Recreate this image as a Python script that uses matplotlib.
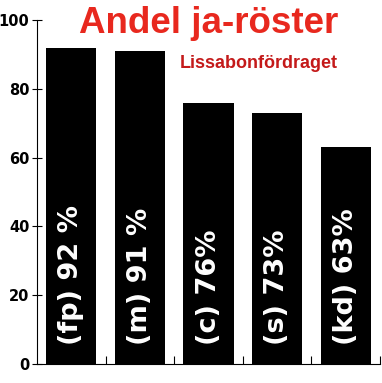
import matplotlib
matplotlib.use("Agg")
import matplotlib.pyplot as plt

categories = ["(fp)", "(m)", "(c)", "(s)", "(kd)"]
values = [92, 91, 76, 73, 63]
labels = ["(fp) 92 %", "(m) 91 %", "(c) 76%", "(s) 73%", "(kd) 63%"]
yticks = [0, 20, 40, 60, 80, 100]

plt.rcParams['font.family'] = ['DejaVu Sans']
fig = plt.figure(figsize=(3.82, 3.83), dpi=100)
ax = fig.add_axes([37/382, 1-364/383, (380-37)/382, (364-20)/383])

x = list(range(len(values)))
ax.bar(x, values, width=0.73, color="black")
for xi, lab in zip(x, labels):
    ax.text(xi, 5.5, lab, rotation=90, ha="center", va="bottom", color="white",
            fontsize=19.5, fontweight="bold")

ax.set_xlim(-0.5, len(values) - 0.5)
ax.set_ylim(0, 100)
ax.set_yticks(yticks)
ax.set_yticklabels([str(v) for v in yticks], fontsize=10.5, fontweight="bold")
ax.set_xticks([i + 0.5 for i in range(len(values))])
ax.set_xticklabels([])
ax.tick_params(axis="x", direction="in", length=5.5, width=0.8)
ax.tick_params(axis="y", direction="inout", length=7, width=0.8, pad=2)
ax.spines["top"].set_visible(False)
ax.spines["right"].set_visible(False)

fig.text(209/382, 1-33/383, "Andel ja-röster", color="#e8281e", fontsize=26.5,
         fontweight="bold", ha="center", va="baseline", family="Liberation Sans")
fig.text(259/382, 1-64/383, "Lissabonfördraget", color="#c41a1a", fontsize=13,
         fontweight="bold", ha="center", va="center", family="Liberation Sans")

fig.savefig("out.png", dpi=100)
